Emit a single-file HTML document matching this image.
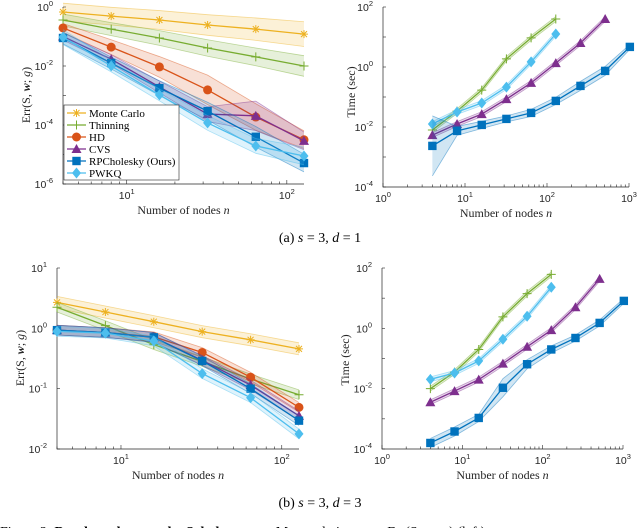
<!DOCTYPE html>
<html><head><meta charset="utf-8">
<style>
html,body{margin:0;padding:0;background:#fff;overflow:hidden}
svg{display:block}
.tk{font-family:"Liberation Sans",sans-serif;font-size:10.5px;fill:#262626}
.sup{font-size:7.5px}
.ttl{font-family:"Liberation Serif",serif;font-size:12px;fill:#262626}
.cap{font-family:"Liberation Serif",serif;font-size:14px;fill:#000}
.leg{font-family:"Liberation Serif",serif;font-size:11px;fill:#000}
</style></head>
<body>
<svg id="fig" width="640" height="528" viewBox="0 0 640 528" xmlns="http://www.w3.org/2000/svg">
<text class="cap" x="320" y="242" text-anchor="middle">(a) <tspan font-style="italic">s</tspan> = 3, <tspan font-style="italic">d</tspan> = 1</text>
<text class="cap" x="320" y="507" text-anchor="middle">(b) <tspan font-style="italic">s</tspan> = 3, <tspan font-style="italic">d</tspan> = 3</text>
<text class="cap" x="0" y="536">Figure 2: <tspan font-weight="bold">Benchmark example: Sobolev space.</tspan> Mean relative error Err(S, w; g) (left)</text>
</svg>
<script>
// ---- data (log10 values) ----
const nodesErr = [4, 8, 16, 32, 64, 128];
const nodesRpc = [4, 8, 16, 32, 64, 128, 256, 512, 1024];
const nodesCvs = [4, 8, 16, 32, 64, 128, 256, 512];

// panel a-left: error
const a_mc = [-0.17, -0.31, -0.44, -0.61, -0.75, -0.92];
const a_mc_band = [0.3, 0.3, 0.32, 0.35, 0.38, 0.42];
const a_thin = [-0.44, -0.75, -1.05, -1.39, -1.69, -2.0];
const a_thin_band = [0.2, 0.22, 0.25, 0.28, 0.3, 0.35];
const a_hd = [-0.71, -1.36, -2.03, -2.81, -3.73, -4.5];
const a_hd_band = [0.15, 0.25, 0.35, 0.5, 0.45, 0.3];
const a_cvs = [-1.0, -1.77, -2.71, -3.63, -3.69, -4.54];
const a_cvs_band = [0.12, 0.15, 0.2, 0.25, 0.5, 0.3];
const a_rpc = [-1.05, -1.9, -2.75, -3.53, -4.4, -5.29];
const a_rpc_band = [0.2, 0.2, 0.25, 0.3, 0.35, 0.3];
const a_pw = [-1.02, -2.0, -2.98, -3.93, -4.71, -5.05];
const a_pw_band = [0.25, 0.2, 0.2, 0.25, 0.25, 0.3];

// panel a-right: time
const at_thin = [-2.1, -1.47, -0.77, 0.27, 0.97, 1.6];
const at_pw = [-1.9, -1.5, -1.2, -0.67, 0.17, 1.1];
const at_cvs = [-2.27, -1.9, -1.57, -1.07, -0.53, 0.13, 0.8, 1.6];
const at_rpc = [-2.63, -2.13, -1.93, -1.73, -1.53, -1.13, -0.63, -0.13, 0.67];
const at_rpc_band = [1.0, 0.15, 0.12, 0.1, 0.12, 0.12, 0.15, 0.15, 0.08];

// panel b-left: error
const b_mc = [0.43, 0.27, 0.11, -0.055, -0.19, -0.34];
const b_thin = [0.35, 0.045, -0.27, -0.55, -0.84, -1.1];
const b_hd = [-0.03, -0.07, -0.14, -0.40, -0.81, -1.31];
const b_cvs = [-0.03, -0.07, -0.15, -0.53, -0.94, -1.45];
const b_rpc = [-0.03, -0.07, -0.15, -0.54, -1.0, -1.53];
const b_pw = [-0.05, -0.08, -0.21, -0.75, -1.15, -1.75];

// panel b-right: time
const bt_thin = [-2.0, -1.45, -0.7, 0.38, 1.15, 1.79];
const bt_pw = [-1.69, -1.48, -1.08, -0.36, 0.4, 1.36];
const bt_cvs = [-2.45, -2.08, -1.7, -1.17, -0.61, -0.06, 0.7, 1.64];
const bt_rpc = [-3.8, -3.42, -2.97, -1.97, -1.19, -0.7, -0.32, 0.18, 0.91];
const bt_rpc_band = [0.15, 0.15, 0.12, 0.3, 0.15, 0.12, 0.1, 0.1, 0.08];

const C = {mc:'#EDB120', thin:'#77AC30', hd:'#D95319', cvs:'#7E2F8E', rpc:'#0072BD', pw:'#4DBEEE'};
const NS = 'http://www.w3.org/2000/svg';
const svg = document.getElementById('fig');

function mk(tag, attrs, parent){
  const e = document.createElementNS(NS, tag);
  for (const k in attrs) e.setAttribute(k, attrs[k]);
  (parent||svg).appendChild(e);
  return e;
}
function panel(cfg){
  const g = mk('g', {});
  
  
  cfg.g = g;
  cfg.X = v => cfg.xl + (Math.log10(v) - cfg.x0) / (cfg.x1 - cfg.x0) * (cfg.xr - cfg.xl);
  cfg.Y = l => cfg.yt + (cfg.y1 - l) / (cfg.y1 - cfg.y0) * (cfg.yb - cfg.yt);
  const ax = mk('path', {d:`M${cfg.xl},${cfg.yt}V${cfg.yb}H${cfg.xr}`, stroke:'#262626', 'stroke-width':0.7, fill:'none'}, g);
  
  
  for (let d = Math.floor(cfg.x0); d <= Math.ceil(cfg.x1); d++){
    for (let m = 1; m < 10; m++){
      const lv = d + Math.log10(m);
      if (lv < cfg.x0 - 1e-6 || lv > cfg.x1 + 1e-6) continue;
      const px = cfg.xl + (lv - cfg.x0) / (cfg.x1 - cfg.x0) * (cfg.xr - cfg.xl);
      mk('line', {x1:px, x2:px, y1:cfg.yb, y2:cfg.yb - (m===1?4:2.5), stroke:'#262626', 'stroke-width':0.6}, g);
      if (m === 1){
        const t = mk('text', {class:'tk', x:px, y:cfg.yb + 15, 'text-anchor':'middle'}, g);
        
        
        t.innerHTML = '10<tspan class="sup" dy="-5">' + d + '</tspan>';
      }
    }
  }
  for (let d = cfg.y0; d <= cfg.y1; d++){
    const py = cfg.Y(d);
    mk('line', {x1:cfg.xl, x2:cfg.xl + 3, y1:py, y2:py, stroke:'#262626', 'stroke-width':0.6}, g);
    if ((d - cfg.y0) % cfg.ystep === 0){
      const t = mk('text', {class:'tk', x:cfg.xl - 10, y:py + 4, 'text-anchor':'end'}, g);
      
      
      t.innerHTML = '10<tspan class="sup" dy="-5">' + d + '</tspan>';
    }
  }
  const xt = mk('text', {class:'ttl', x:(cfg.xl + cfg.xr) / 2, y:cfg.yb + 30, 'text-anchor':'middle'}, g);
  
  
  xt.innerHTML = 'Number of nodes <tspan font-style="italic">n</tspan>';
  const yt = mk('text', {class:'ttl', x:0, y:0, 'text-anchor':'middle', transform:`translate(${cfg.ytx},${cfg.yty}) rotate(-90)`}, g);
  
  
  yt.innerHTML = cfg.ytitle;
  return cfg;
}
function marker(g, kind, x, y, col){
  let e;
  if (kind === 'mc'){
    e = mk('path', {d:`M${x-4},${y}H${x+4}M${x},${y-4}V${y+4}M${x-3},${y-3}L${x+3},${y+3}M${x-3},${y+3}L${x+3},${y-3}`, stroke:col, 'stroke-width':1, fill:'none'}, g);
  } else if (kind === 'thin'){
    e = mk('path', {d:`M${x-4.5},${y}H${x+4.5}M${x},${y-4.5}V${y+4.5}`, stroke:col, 'stroke-width':1, fill:'none'}, g);
  } else if (kind === 'hd'){
    e = mk('circle', {cx:x, cy:y, r:4.5, fill:col}, g);
  } else if (kind === 'cvs'){
    e = mk('path', {d:`M${x},${y-5}L${x+5},${y+4}L${x-5},${y+4}Z`, fill:col}, g);
  } else if (kind === 'rpc'){
    e = mk('rect', {x:x-4.2, y:y-4.2, width:8.4, height:8.4, fill:col}, g);
  } else {
    e = mk('path', {d:`M${x},${y-5.5}L${x+4.5},${y}L${x},${y+5.5}L${x-4.5},${y}Z`, fill:col}, g);
  }
  
  
}
function series(p, kind, ns, vals, band){
  const col = C[kind];
  const g = mk('g', {}, p.g);
  
  
  const bw = band || vals.map(() => 0.08);
  const up = vals.map((v, i) => [p.X(ns[i]), p.Y(v + bw[i])]);
  const lo = vals.map((v, i) => [p.X(ns[i]), p.Y(v - bw[i])]);
  const poly = up.concat(lo.slice().reverse()).map(q => q.join(',')).join(' ');
  const b = mk('polygon', {points:poly, fill:col, 'fill-opacity':0.18, stroke:'none'}, g);
  
  
  mk('polyline', {points:up.map(q => q.join(',')).join(' '), fill:'none', stroke:col, 'stroke-opacity':0.45, 'stroke-width':0.8}, g);
  mk('polyline', {points:lo.map(q => q.join(',')).join(' '), fill:'none', stroke:col, 'stroke-opacity':0.45, 'stroke-width':0.8}, g);
  const l = mk('polyline', {points:vals.map((v, i) => p.X(ns[i]) + ',' + p.Y(v)).join(' '), fill:'none', stroke:col, 'stroke-width':1.3}, g);
  
  
  vals.forEach((v, i) => marker(g, kind, p.X(ns[i]), p.Y(v), col));
}

const errTitle = 'Err(S, <tspan font-weight="bold" font-style="italic">w</tspan>; <tspan font-style="italic">g</tspan>)';
const P1 = panel({name:'plot-a-error', xl:63, xr:304, x0:Math.log10(4), x1:Math.log10(128), yt:7, yb:184, y0:-6, y1:0, ystep:2, ytx:30, yty:95, ytitle:errTitle});
series(P1, 'mc', nodesErr, a_mc, a_mc_band);
series(P1, 'thin', nodesErr, a_thin, a_thin_band);
series(P1, 'hd', nodesErr, a_hd, a_hd_band);
series(P1, 'cvs', nodesErr, a_cvs, a_cvs_band);
series(P1, 'rpc', nodesErr, a_rpc, a_rpc_band);
series(P1, 'pw', nodesErr, a_pw, a_pw_band);

const P2 = panel({name:'plot-a-time', xl:383, xr:629, x0:0, x1:3, yt:7, yb:187, y0:-4, y1:2, ystep:2, ytx:355, yty:92, ytitle:'Time (sec)'});
series(P2, 'thin', nodesErr, at_thin);
series(P2, 'pw', nodesErr, at_pw);
series(P2, 'cvs', nodesCvs, at_cvs);
series(P2, 'rpc', nodesRpc, at_rpc, at_rpc_band);

const P3 = panel({name:'plot-b-error', xl:57, xr:299, x0:Math.log10(4), x1:Math.log10(128), yt:268, yb:449, y0:-2, y1:1, ystep:1, ytx:24, yty:358, ytitle:errTitle});
series(P3, 'mc', nodesErr, b_mc, [0.1,0.1,0.1,0.1,0.1,0.1]);
series(P3, 'thin', nodesErr, b_thin);
series(P3, 'hd', nodesErr, b_hd);
series(P3, 'cvs', nodesErr, b_cvs);
series(P3, 'rpc', nodesErr, b_rpc);
series(P3, 'pw', nodesErr, b_pw);

const P4 = panel({name:'plot-b-time', xl:382, xr:623, x0:0, x1:3, yt:268, yb:449, y0:-4, y1:2, ystep:2, ytx:349, yty:360, ytitle:'Time (sec)'});
series(P4, 'thin', nodesErr, bt_thin);
series(P4, 'pw', nodesErr, bt_pw);
series(P4, 'cvs', nodesCvs, bt_cvs);
series(P4, 'rpc', nodesRpc, bt_rpc, bt_rpc_band);

const legNames = ['Monte Carlo', 'Thinning', 'HD', 'CVS', 'RPCholesky (Ours)', 'PWKQ'];
const legKinds = ['mc', 'thin', 'hd', 'cvs', 'rpc', 'pw'];
const lg = mk('g', {});


mk('rect', {x:64, y:105, width:115, height:75, fill:'#fff', stroke:'#262626', 'stroke-width':0.6}, lg);
legKinds.forEach((k, i) => {
  const y = 113 + i * 12;
  const eg = mk('g', {}, lg);
  
  
  mk('line', {x1:67, x2:86, y1:y, y2:y, stroke:C[k], 'stroke-width':1.3}, eg);
  marker(eg, k, 76.5, y, C[k]);
  const t = mk('text', {class:'leg', x:89, y:y + 4}, eg);
  t.textContent = legNames[i];
});
</script>
</body></html>
